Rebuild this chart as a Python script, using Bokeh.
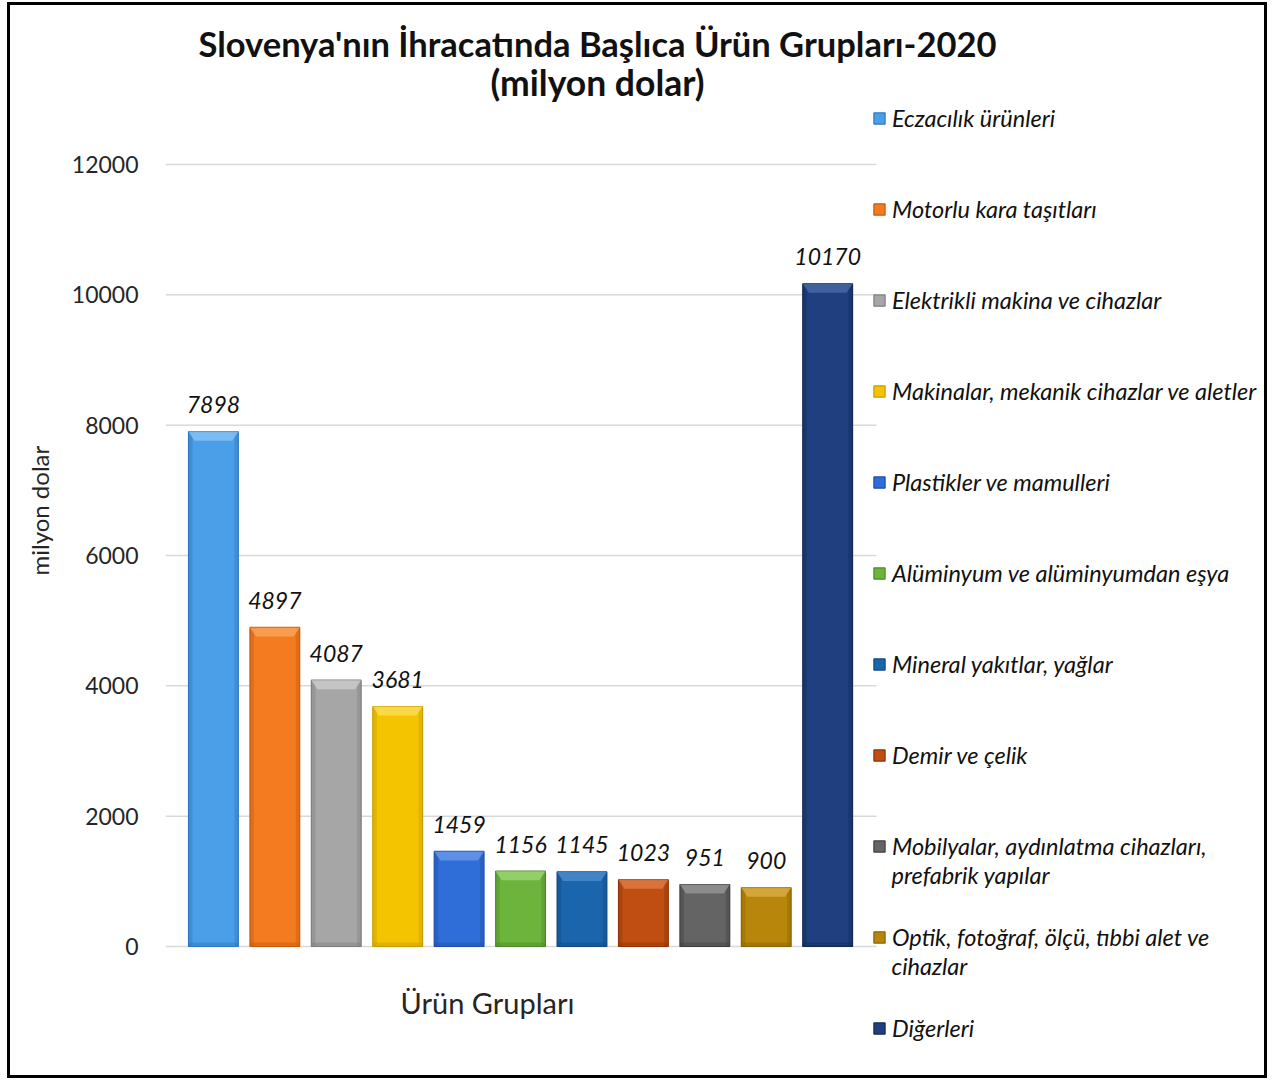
from bokeh.plotting import figure
from bokeh.models import ColumnDataSource, Range1d, Label, Legend, LegendItem, FixedTicker, Title
from bokeh.core.properties import value
from bokeh.embed import file_html
from bokeh.resources import INLINE

title_line1 = "Slovenya'nın İhracatında Başlıca Ürün Grupları-2020"
title_line2 = "(milyon dolar)"
y_axis_title = "milyon dolar"
x_axis_title = "Ürün Grupları"

categories = [
    "Eczacılık ürünleri",
    "Motorlu kara taşıtları",
    "Elektrikli makina ve cihazlar",
    "Makinalar, mekanik cihazlar ve aletler",
    "Plastikler ve mamulleri",
    "Alüminyum ve alüminyumdan eşya",
    "Mineral yakıtlar, yağlar",
    "Demir ve çelik",
    "Mobilyalar, aydınlatma cihazları, prefabrik yapılar",
    "Optik, fotoğraf, ölçü, tıbbi alet ve cihazlar",
    "Diğerleri",
]
# legend wrapping: first line / continuation line
legend_first = [
    "Eczacılık ürünleri",
    "Motorlu kara taşıtları",
    "Elektrikli makina ve cihazlar",
    "Makinalar, mekanik cihazlar ve aletler",
    "Plastikler ve mamulleri",
    "Alüminyum ve alüminyumdan eşya",
    "Mineral yakıtlar, yağlar",
    "Demir ve çelik",
    "Mobilyalar, aydınlatma cihazları,",
    "Optik, fotoğraf, ölçü, tıbbi alet ve",
    "Diğerleri",
]
legend_second = ["", "", "", "", "", "", "", "", "prefabrik yapılar", "cihazlar", ""]

values = [7898, 4897, 4087, 3681, 1459, 1156, 1145, 1023, 951, 900, 10170]
colors = ["#4a9fe8", "#f47b20", "#a6a6a6", "#f5c400", "#2f6ed8", "#6cb43c",
          "#1b65ad", "#c04d12", "#646464", "#b8860a", "#1f3f7e"]
edge_colors = ["#2f78bf", "#c45c0e", "#7f7f7f", "#c79d00", "#1f4fa8", "#4d8a26",
               "#114a82", "#8f3508", "#404040", "#8a6505", "#122a58"]
top_colors = ["#8cc6f5", "#f9a860", "#cfcfcf", "#fbe060", "#6d9cec", "#a2d77a",
              "#4f90cf", "#e0804a", "#9a9a9a", "#dcb048", "#4d6eaa"]
y_ticks = [0, 2000, 4000, 6000, 8000, 10000, 12000]

FONT = "Lato"

# ---- layout geometry (page pixels) ----
OX, OY = 10, 5            # canvas origin on the page
CW, CH = 1260, 1076       # canvas size
FL = 165                  # frame left (page)
GX0, GX1 = 165, 876       # grid extent (page)
X_AT_GX0, X_AT_GX1 = -0.78, 10.795
PY0, PY1 = 946, 164       # y=0 and y=12000 on page
def dx(px):
    return X_AT_GX0 + (px - GX0) * (X_AT_GX1 - X_AT_GX0) / (GX1 - GX0)
def dy(py):
    return (PY0 - py) * 12000 / (PY0 - PY1)
def dh(pix):
    return pix * 12000 / (PY0 - PY1)
def dw(pix):
    return pix * (X_AT_GX1 - X_AT_GX0) / (GX1 - GX0)

xs = list(range(len(values)))
bar_w = 0.81
bev_h = dh(9)
bev_w = dw(6)
side_w = dw(4)
source = ColumnDataSource(dict(
    x=xs, v=values, c=colors, ec=edge_colors, tc=top_colors,
    lbl=[str(v) for v in values],
    left=[x - bar_w / 2 for x in xs], right=[x + bar_w / 2 for x in xs],
    left_in=[x - bar_w / 2 + side_w for x in xs], right_in=[x + bar_w / 2 - side_w for x in xs],
    bstrip=[dh(4)] * len(values),
))
# top bevel trapezoids derived from the bar values
bevel = ColumnDataSource(dict(
    xs=[[x - bar_w / 2, x + bar_w / 2, x + bar_w / 2 - bev_w, x - bar_w / 2 + bev_w] for x in xs],
    ys=[[v, v, v - bev_h, v - bev_h] for v in values],
    tc=top_colors,
))

p = figure(width=CW, height=CH, output_backend="svg",
           toolbar_location=None, title_location=None, x_axis_type=None,
           x_range=Range1d(dx(FL), dx(OX + CW)), y_range=Range1d(dy(OY + CH), dy(OY)),
           min_border_left=FL - OX, min_border_right=0, min_border_top=0,
           min_border_bottom=0)
p.styles = {"border": "3px solid black", "margin-left": "7px", "margin-top": "2px"}
p.outline_line_color = None
p.ygrid.visible = False

ax = p.yaxis[0]
ax.ticker = FixedTicker(ticks=y_ticks)
ax.axis_line_color = None
ax.major_tick_line_color = None
ax.minor_tick_line_color = None
ax.major_tick_out = 0
ax.major_tick_in = 0
ax.major_label_standoff = 27
ax.major_label_text_font = FONT
ax.major_label_text_font_size = "23px"
ax.major_label_text_color = "#262626"

# y axis title, placed on the left side
ytitle = Title(text=y_axis_title, align="left", vertical_align="top", standoff=26,
               offset=(OY + CH) - 575, text_font=FONT, text_font_style="normal",
               text_font_size="24px", text_color="#262626")
p.add_layout(ytitle, "left")

# horizontal grid lines at the tick values
p.segment(x0=[dx(GX0)] * len(y_ticks), x1=[dx(GX1)] * len(y_ticks), y0=y_ticks, y1=y_ticks,
          line_color="#d9d9d9", line_width=1.5)

bars = p.vbar(x="x", top="v", bottom=0, width=bar_w, source=source,
              fill_color="c", line_color="ec", line_width=1.2)
# bevel effect: darker sides and bottom, lighter top
p.quad(left="left", right="left_in", top="v", bottom=0, source=source,
       fill_color="ec", fill_alpha=0.4, line_color=None)
p.quad(left="right_in", right="right", top="v", bottom=0, source=source,
       fill_color="ec", fill_alpha=0.4, line_color=None)
p.quad(left="left", right="right", top="bstrip", bottom=0, source=source,
       fill_color="ec", fill_alpha=0.45, line_color=None)
p.patches(xs="xs", ys="ys", source=bevel, fill_color="tc", fill_alpha=0.75,
          line_color=None)

p.text(x="x", y="v", text="lbl", source=source, text_align="center",
       text_baseline="alphabetic", y_offset=-27, text_font=value(FONT),
       text_font_style="italic", text_font_size="23px", text_color="#111111")

# legend
LEG_FIRST_CY = 118
LEG_PITCH = 91
LEG_ITEM_H = 28
items = [LegendItem(label=legend_first[i], renderers=[bars], index=i)
         for i in range(len(legend_first))]
n = len(items)
leg_h = n * LEG_ITEM_H + (n - 1) * (LEG_PITCH - LEG_ITEM_H)
leg_top = LEG_FIRST_CY - LEG_ITEM_H / 2
legend = Legend(items=items, location=(872 - FL, (OY + CH) - (leg_top + leg_h)),
                glyph_width=14, glyph_height=14, label_standoff=6,
                label_height=LEG_ITEM_H, spacing=LEG_PITCH - LEG_ITEM_H,
                padding=0, margin=0, border_line_alpha=0, background_fill_alpha=0,
                label_text_font=FONT, label_text_font_style="italic",
                label_text_font_size="23.5px", label_text_color="#111111")
p.add_layout(legend)
for i, t in enumerate(legend_second):
    if t:
        p.add_layout(Label(x=dx(891), y=dy(LEG_FIRST_CY + i * LEG_PITCH + 28), text=t,
                           text_align="left", text_baseline="middle", text_font=FONT,
                           text_font_style="italic", text_font_size="23.5px",
                           text_color="#111111"))

# chart title (two lines) and x axis title
p.add_layout(Label(x=dx(597), y=dy(43), text=title_line1, text_align="center",
                   text_baseline="middle", text_font=FONT, text_font_style="bold",
                   text_font_size="34.5px", text_color="#111111"))
p.add_layout(Label(x=dx(597), y=dy(82), text=title_line2, text_align="center",
                   text_baseline="middle", text_font=FONT, text_font_style="bold",
                   text_font_size="35.5px", text_color="#111111"))
p.add_layout(Label(x=dx(487), y=dy(1002), text=x_axis_title, text_align="center",
                   text_baseline="middle", text_font=FONT, text_font_style="normal",
                   text_font_size="29px", text_color="#262626"))

open("out.html", "w").write(file_html(p, INLINE))
